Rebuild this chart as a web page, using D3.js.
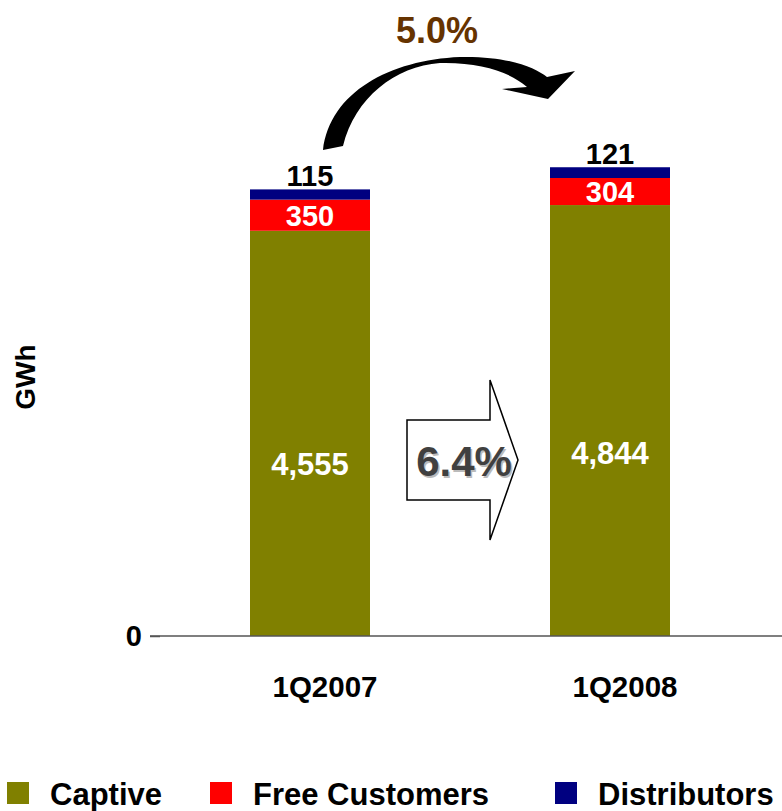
<!DOCTYPE html>
<html>
<head>
<meta charset="utf-8">
<script src="https://cdn.jsdelivr.net/npm/d3@7"></script>
<style>
  html, body { margin: 0; padding: 0; background: #fff; }
  svg { display: block; }
  text { font-family: "Liberation Sans", Arial, Helvetica, sans-serif; font-weight: bold; }
</style>
</head>
<body>
<svg id="chart" width="782" height="811"></svg>
<script>
// Energy sales by segment (GWh)
const quarters = ["1Q2007", "1Q2008"];
const captive = [4555, 4844];
const freeCustomers = [350, 304];
const distributors = [115, 121];
const seriesNames = ["Captive", "Free Customers", "Distributors"];
const seriesColors = ["#808000", "#FF0000", "#000080"];
const yTicks = [0];
const totalGrowth = "5.0%";
const captiveGrowth = "6.4%";

const svg = d3.select("#chart");
const baseY = 636;

const rows = quarters.map((q, i) => ({
  quarter: q,
  "Captive": captive[i],
  "Free Customers": freeCustomers[i],
  "Distributors": distributors[i]
}));
const stacked = d3.stack().keys(seriesNames)(rows);

const x = d3.scaleBand().domain(quarters).range([160, 760])
  .paddingInner(0.6).paddingOuter(0.3);
const y = d3.scaleLinear().domain([0, 5800]).range([baseY, 120]);
const color = d3.scaleOrdinal().domain(seriesNames).range(seriesColors);

// stacked bars
svg.append("g").selectAll("g").data(stacked).join("g")
  .attr("fill", d => color(d.key))
  .selectAll("rect").data(d => d).join("rect")
  .attr("x", d => x(d.data.quarter))
  .attr("width", x.bandwidth())
  .attr("y", d => y(d[1]))
  .attr("height", d => y(d[0]) - y(d[1]));

// baseline and zero tick
svg.append("line")
  .attr("x1", 150).attr("x2", 782)
  .attr("y1", y(0)).attr("y2", y(0))
  .attr("stroke", "#555").attr("stroke-width", 1.5);

const yAxis = svg.append("g").attr("transform", "translate(160,0)")
  .call(d3.axisLeft(y).tickValues(yTicks).tickSize(10).tickPadding(8));
yAxis.select(".domain").remove();
yAxis.selectAll("line").attr("stroke", "#555").attr("stroke-width", 1.5);
yAxis.selectAll("text")
  .attr("font-size", 29).attr("fill", "#000")
  .style("font-family", "'Liberation Sans', Arial, sans-serif")
  .style("font-weight", "bold");

// y-axis title
svg.append("text")
  .attr("transform", "translate(35,377) rotate(-90)")
  .attr("text-anchor", "middle")
  .attr("font-size", 28)
  .text("GWh");

// category labels
svg.append("g").selectAll("text").data(quarters).join("text")
  .attr("x", d => x(d) + x.bandwidth() / 2 + 15)
  .attr("y", 697)
  .attr("text-anchor", "middle")
  .attr("font-size", 29.5)
  .text(d => d);

const fmt = d3.format(",");
const cx = i => x(quarters[i]) + x.bandwidth() / 2;

// captive labels
svg.append("g").selectAll("text").data(captive).join("text")
  .attr("x", (d, i) => cx(i))
  .attr("y", d => y(d * 0.425))
  .attr("dy", "0.36em")
  .attr("text-anchor", "middle")
  .attr("font-size", 31)
  .attr("fill", "#fff")
  .text(d => fmt(d));

// free customers labels (centred in red segment)
svg.append("g").selectAll("text").data(freeCustomers).join("text")
  .attr("x", (d, i) => cx(i))
  .attr("y", (d, i) => y(captive[i] + d / 2))
  .attr("dy", "0.36em")
  .attr("text-anchor", "middle")
  .attr("font-size", 29)
  .attr("fill", "#fff")
  .text(d => fmt(d));

// distributors labels (above bar)
svg.append("g").selectAll("text").data(distributors).join("text")
  .attr("x", (d, i) => cx(i))
  .attr("y", (d, i) => y(captive[i] + freeCustomers[i] + d) - 3)
  .attr("text-anchor", "middle")
  .attr("font-size", 29)
  .attr("fill", "#000")
  .text(d => fmt(d));

// curved growth arrow over the bars
svg.append("path")
  .attr("d", "M323,150 C330,92 390,60 460,57 C510,56 535,68 547,77 L575,71 L548,99 L502,89 L527,87 C510,72 480,62 440,63 C395,66 355,98 343,146 Z")
  .attr("fill", "#000");

svg.append("text")
  .attr("x", 437).attr("y", 43)
  .attr("text-anchor", "middle")
  .attr("font-size", 36)
  .attr("fill", "#663300")
  .text(totalGrowth);

// block arrow between bars
svg.append("path")
  .attr("d", "M407,420 L490,420 L490,380 L518,460 L490,540 L490,500 L407,500 Z")
  .attr("fill", "#fff").attr("stroke", "#000").attr("stroke-width", 1.5);

svg.append("text")
  .attr("x", 465.5).attr("y", 477.5)
  .attr("text-anchor", "middle")
  .attr("font-size", 42)
  .attr("fill", "#bbb")
  .text(captiveGrowth);
svg.append("text")
  .attr("x", 464).attr("y", 476)
  .attr("text-anchor", "middle")
  .attr("font-size", 42)
  .attr("fill", "#404040")
  .text(captiveGrowth);

// legend
const legendX = [7, 210, 555];
const legend = svg.append("g").selectAll("g").data(seriesNames).join("g")
  .attr("transform", (d, i) => `translate(${legendX[i]},782)`);
legend.append("rect")
  .attr("width", 22).attr("height", 22)
  .attr("fill", d => color(d));
legend.append("text")
  .attr("x", 43).attr("y", 23)
  .attr("font-size", 31)
  .text(d => d);
</script>
</body>
</html>
